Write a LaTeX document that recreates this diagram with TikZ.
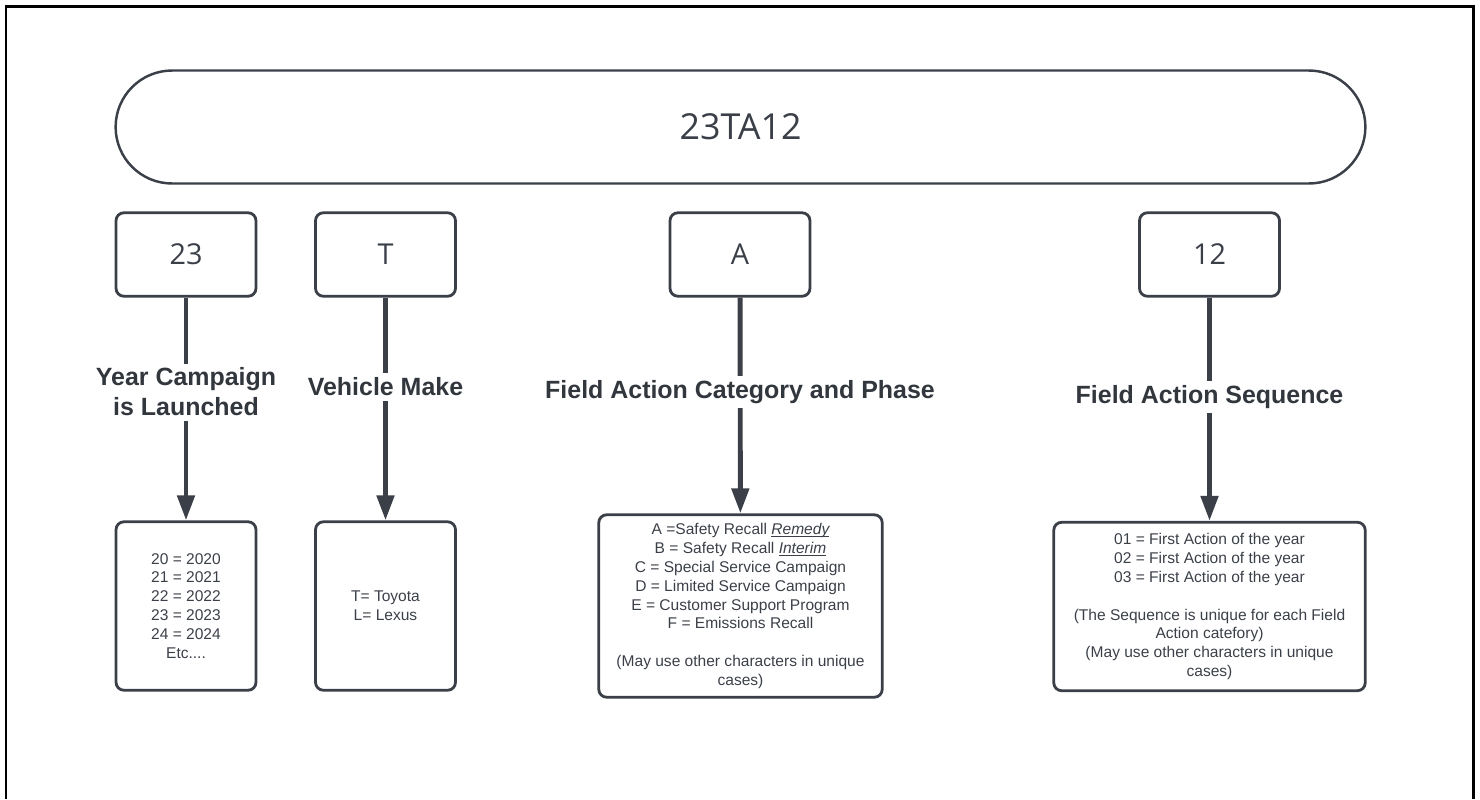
\documentclass[tikz,border=0pt]{standalone}
\usepackage{fontspec}
\setmainfont{Liberation Sans}
\newfontfamily\opensans{Open Sans}
\usetikzlibrary{arrows.meta,positioning}
\definecolor{ink}{RGB}{59,64,72}
% underlined word, rule drawn by hand
\newcommand{\ulword}[1]{\setbox0\hbox{#1}\rlap{\rule[-1.6pt]{\wd0}{0.55pt}}\box0}
\begin{document}
\begin{tikzpicture}[
        x=0.02cm, y=-0.02cm,  % one unit is one pixel of the sketch
        >={Triangle[width=0.34cm,length=0.5cm]}, % Arrow style
        titlebox/.style={draw=ink, line width=1.4pt, rounded corners=1.13cm, minimum width=25cm, minimum height=2.26cm, text=ink, font=\opensans\fontsize{20.4}{24}\selectfont},
        codebox/.style={draw=ink, line width=1.6pt, rounded corners=4.5pt, minimum width=2.8cm, minimum height=1.67cm, text=ink, font=\opensans\fontsize{16.4}{20}\selectfont},
        infobox/.style={draw=ink, line width=1.6pt, rounded corners=4.5pt, align=center, text=ink, font=\fontsize{8.85}{10.77}\selectfont},
        heading/.style={fill=white, inner sep=2.5pt, align=center, text=ink!85!black, font=\bfseries\fontsize{14.2}{17}\selectfont},
        link/.style={->, draw=ink, line width=2.8pt}
    ]
    \useasboundingbox (0,0) rectangle (1480,799);
    % Outer frame, open at the bottom
    \draw[black, line width=1.7pt] (6,799) -- (6,6) -- (1473,6) -- (1473,799);

    % The whole code
    \node[titlebox] (code) at (740.5,127) {23TA12};

    % The parts of the code
    \node[codebox] (year) at (186,254.5) {23};
    \node[codebox] (make) at (385.5,254.5) {T};
    \node[codebox] (cat) at (740,254.5) {A};
    \node[codebox] (seq) at (1209.5,254.5) {12};

    % What each part means
    \node[infobox, minimum width=2.8cm, minimum height=3.37cm] (yearinfo) at (186,606)
        {20 = 2020\\21 = 2021\\22 = 2022\\23 = 2023\\24 = 2024\\Etc....};
    \node[infobox, minimum width=2.8cm, minimum height=3.37cm] (makeinfo) at (385.5,606)
        {T= Toyota\\L= Lexus};
    \node[infobox, minimum width=5.67cm, minimum height=3.65cm] (catinfo) at (740.5,606)
        {A =Safety Recall \ulword{\itshape Remedy}\\
         B = Safety Recall \ulword{\itshape Interim}\\
         C = Special Service Campaign\\
         D = Limited Service Campaign\\
         E = Customer Support Program\\
         F = Emissions Recall\\[10.77pt]
         (May use other characters in unique\\cases)};
    \node[infobox, minimum width=6.23cm, minimum height=3.37cm] (seqinfo) at (1209.5,606.5)
        {01 = First Action of the year\\
         02 = First Action of the year\\
         03 = First Action of the year\\[10.77pt]
         (The Sequence is unique for each Field\\
         Action catefory)\\
         (May use other characters in unique\\cases)};

    % Draw arrows between the boxes
    \draw[link] (year) -- (yearinfo);
    \draw[link] (make) -- (makeinfo);
    \draw[link] (cat) -- (catinfo);
    \draw[link] (seq) -- (seqinfo);

    % Headings over the arrows
    \node[heading] (yearhead) at (186,392) {Year Campaign\\is Launched};
    \node[heading] (makehead) at (385.5,387) {Vehicle Make};
    \node[heading] (cathead) at (740,392) {Field Action Category and Phase};
    \node[heading] (seqhead) at (1209.5,397) {Field Action Sequence};
\end{tikzpicture}
\end{document}
